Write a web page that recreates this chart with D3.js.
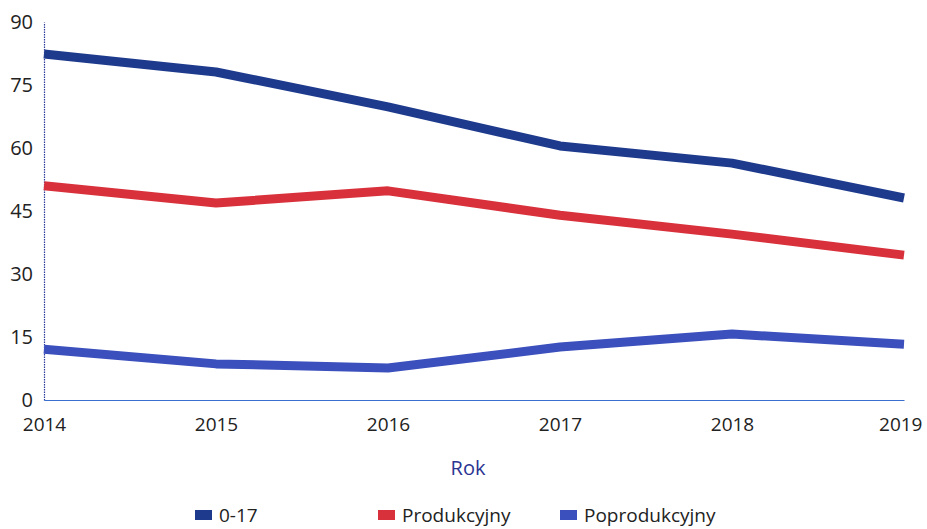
<!DOCTYPE html>
<html>
<head>
<meta charset="utf-8">
<script src="https://cdn.jsdelivr.net/npm/d3@7"></script>
<style>
  body { margin: 0; background: #fff; }
  svg text { font-family: "Open Sans", Lato, sans-serif; }
</style>
</head>
<body>
<svg id="drawing_region"></svg>
<script>
// data
const years = [2014, 2015, 2016, 2017, 2018, 2019];
const seriesNames = ['0-17', 'Produkcyjny', 'Poprodukcyjny'];
const values017 = [82.4, 78.1, 69.8, 60.5, 56.4, 48.1];
const valuesProd = [51.0, 46.9, 49.8, 44.0, 39.5, 34.5];
const valuesPoprod = [12.1, 8.6, 7.6, 12.6, 15.7, 13.3];
const yTicks = [0, 15, 30, 45, 60, 75, 90];
const colors = ['#1e3a8c', '#d9313c', '#3b4fbd'];

const config = {
    width: 927,
    height: 529,
    margin: {top: 22, right: 23, bottom: 129, left: 44}
};

const svg = d3.select('#drawing_region')
    .attr('width', config.width)
    .attr('height', config.height);

const inner_width = config.width - config.margin.left - config.margin.right;
const inner_height = config.height - config.margin.top - config.margin.bottom;

const chart = svg.append('g')
    .attr('transform', `translate(${config.margin.left}, ${config.margin.top})`);

const xscale = d3.scalePoint()
    .domain(years)
    .range([0, inner_width]);

const yscale = d3.scaleLinear()
    .domain([0, 90])
    .range([inner_height, 0]);

// axes
const yaxis = d3.axisLeft(yscale)
    .tickValues(yTicks)
    .tickSize(0)
    .tickPadding(11);

const yaxis_group = chart.append('g').call(yaxis);
yaxis_group.select('.domain')
    .attr('stroke', '#2a3a9a')
    .attr('stroke-width', 1.2)
    .attr('stroke-dasharray', '1.5,1');
yaxis_group.selectAll('text')
    .attr('font-size', 20)
    .attr('fill', '#222');

const xaxis = d3.axisBottom(xscale)
    .tickSize(0)
    .tickPadding(18);

const xaxis_group = chart.append('g')
    .attr('transform', `translate(0, ${inner_height})`)
    .call(xaxis);
xaxis_group.select('.domain')
    .attr('stroke', '#3a6fd0')
    .attr('stroke-width', 1.2);
xaxis_group.selectAll('text')
    .attr('font-size', 19)
    .attr('fill', '#222')
    .attr('text-anchor', (d, i) => i === years.length - 1 ? 'end' : 'middle')
    .attr('dx', (d, i) => i === years.length - 1 ? 18 : 0);

// x axis title
chart.append('text')
    .attr('x', 424)
    .attr('y', inner_height + 75)
    .attr('text-anchor', 'middle')
    .attr('font-size', 20)
    .attr('fill', '#2a3592')
    .text('Rok');

// lines
const allValues = [values017, valuesProd, valuesPoprod];
const line = d3.line()
    .x((d, i) => xscale(years[i]))
    .y(d => yscale(d));

chart.selectAll('.series')
    .data(allValues)
    .enter()
    .append('path')
    .attr('class', 'series')
    .attr('d', d => line(d))
    .attr('fill', 'none')
    .attr('stroke', (d, i) => colors[i])
    .attr('stroke-width', 9)
    .attr('stroke-linejoin', 'round');

// legend
const legendX = [195, 378, 560];
const legend = svg.append('g')
    .attr('transform', 'translate(0, 515)');

legend.selectAll('rect')
    .data(seriesNames)
    .enter()
    .append('rect')
    .attr('x', (d, i) => legendX[i])
    .attr('y', -5)
    .attr('width', 17)
    .attr('height', 10)
    .attr('fill', (d, i) => colors[i]);

legend.selectAll('text')
    .data(seriesNames)
    .enter()
    .append('text')
    .attr('x', (d, i) => legendX[i] + 24)
    .attr('y', 7)
    .attr('font-size', 19)
    .attr('fill', '#222')
    .text(d => d);
</script>
</body>
</html>
